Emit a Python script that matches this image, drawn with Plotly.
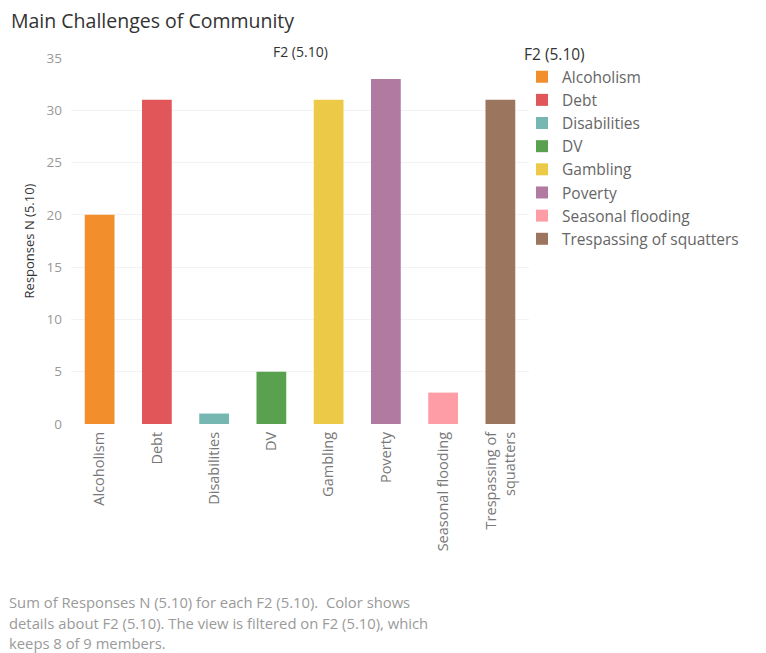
import plotly.graph_objects as go

# Survey responses by community challenge
categories = ["Alcoholism", "Debt", "Disabilities", "DV", "Gambling",
              "Poverty", "Seasonal flooding", "Trespassing of squatters"]
responses = [20, 31, 1, 5, 31, 33, 3, 31]
tick_labels = ["Alcoholism", "Debt", "Disabilities", "DV", "Gambling",
               "Poverty", "Seasonal flooding", "Trespassing of<br>squatters"]
colors = ["#F28E2B", "#E15759", "#76B7B2", "#59A14F", "#EDC948",
          "#B07AA1", "#FF9DA7", "#9C755F"]
y_ticks = [0, 5, 10, 15, 20, 25, 30, 35]

FONT = "Open Sans, Noto Sans, sans-serif"
W, H = 766, 653
PLOT_TOP, PLOT_BOTTOM = 58, 424
PLOT_LEFT, PLOT_RIGHT = 71, 529


def py(pixel_y):
    """Convert a pixel row into paper y coordinates."""
    return (PLOT_BOTTOM - pixel_y) / (PLOT_BOTTOM - PLOT_TOP)


def px(pixel_x):
    """Convert a pixel column into paper x coordinates."""
    return (pixel_x - PLOT_LEFT) / (PLOT_RIGHT - PLOT_LEFT)


fig = go.Figure()
for cat, val, col in zip(categories, responses, colors):
    fig.add_trace(go.Bar(
        x=[cat], y=[val], name=cat,
        marker=dict(color=col, line=dict(width=0)),
        width=0.52,
    ))

fig.update_layout(
    width=W, height=H,
    margin=dict(l=PLOT_LEFT, r=W - PLOT_RIGHT, t=PLOT_TOP, b=H - PLOT_BOTTOM,
                autoexpand=False),
    paper_bgcolor="white", plot_bgcolor="white",
    barmode="overlay",
    font=dict(family=FONT, color="#555"),
    showlegend=True,
    legend=dict(
        x=px(522), y=py(40), xanchor="left", yanchor="top",
        title=dict(text="F2 (5.10)", font=dict(size=15.5, color="#333")),
        font=dict(size=15.5, color="#666"),
        itemwidth=30, tracegroupgap=0,
        bgcolor="rgba(0,0,0,0)",
    ),
    xaxis=dict(
        categoryorder="array", categoryarray=categories,
        tickmode="array", tickvals=categories, ticktext=tick_labels,
        tickangle=-90, tickfont=dict(size=14.5, color="#777"),
        showgrid=False, showline=False, zeroline=False,
        ticks="", ticklabelstandoff=4,
    ),
    yaxis=dict(
        range=[0, 35], tickvals=y_ticks,
        tickfont=dict(size=13.5, color="#999"),
        showgrid=True, gridcolor="#f3f3f3", gridwidth=1,
        zeroline=False, showline=False, ticks="",
        ticklabelstandoff=8,
        title=dict(text="Responses N (5.10)",
                   font=dict(size=13, color="#333"), standoff=8),
    ),
)

annotations = [
    dict(text="Main Challenges of Community", x=px(9), y=py(20),
         xanchor="left", yanchor="middle",
         font=dict(size=19.5, color="#333")),
    dict(text="F2 (5.10)", x=px(300), y=py(51),
         xanchor="center", yanchor="middle",
         font=dict(size=14, color="#333")),
]
footer = [
    "Sum of Responses N (5.10) for each F2 (5.10).  Color shows",
    "details about F2 (5.10). The view is filtered on F2 (5.10), which",
    "keeps 8 of 9 members.",
]
for i, line in enumerate(footer):
    annotations.append(dict(
        text=line, x=px(7), y=py(602 + 20.5 * i),
        xanchor="left", yanchor="middle",
        font=dict(size=14.8, color="#9a9a9a"),
    ))
for a in annotations:
    a.update(xref="paper", yref="paper", showarrow=False)
fig.update_layout(annotations=annotations)

fig.write_html("out.html")
